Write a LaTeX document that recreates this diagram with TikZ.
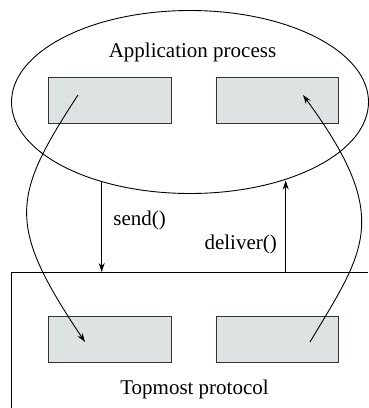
\documentclass[tikz,border=0pt]{standalone}
\usepackage{fontspec}
\setmainfont{Liberation Serif}
\usetikzlibrary{arrows.meta,shapes.geometric}
\definecolor{boxfill}{HTML}{DDE3E3}
\definecolor{boxline}{HTML}{333333}
\begin{document}
\begin{tikzpicture}[x=1pt,y=-1pt,
  inner/.style={draw=boxline,fill=boxfill,line width=1pt,minimum width=122.5pt,minimum height=45.6pt,inner sep=0pt},
  lbl/.style={font=\fontsize{21}{25}\selectfont,inner sep=0pt},
  conn/.style={line width=0.9pt,-{Stealth[length=9pt,width=6pt]}},
  line/.style={line width=0.9pt}]
\useasboundingbox (0,0) rectangle (368,408);
% application process
\node[draw,line width=0.9pt,ellipse,minimum width=357pt,minimum height=183pt,inner sep=0pt] (app) at (190,102) {};
\node[lbl,anchor=base] (apptxt) at (192.5,57.3) {Application process};
\node[inner] (a1) at (110,100.5) {};
\node[inner] (a2) at (277.5,100.5) {};
% topmost protocol
\coordinate (pl) at (11.7,408);
\coordinate (ptl) at (11.7,272);
\coordinate (ptr) at (368,272);
\draw[line] (pl) -- (ptl) -- (ptr);
\node[lbl,anchor=base] (prottxt) at (194.5,394) {Topmost protocol};
\node[inner] (p1) at (110,339.7) {};
\node[inner] (p2) at (277.5,339.7) {};
% send / deliver
\coordinate (s0) at (101.7,180.8);
\coordinate (s1) at (101.7,272);
\draw[conn] (s0) -- (s1);
\node[lbl,anchor=base west] (sendtxt) at (113.3,225.5) {send()};
\coordinate (d0) at (285.7,272);
\coordinate (d1) at (285.7,180.5);
\draw[conn] (d0) -- (d1);
\node[lbl,anchor=base west] (delivtxt) at (204.3,249.5) {deliver()};
% curved paths
\coordinate (c1a) at (78,95);
\coordinate (c1b) at (85,342);
\draw[conn] (c1a) .. controls (11.2,197) and (6.5,225) .. (c1b);
\coordinate (c2a) at (310,342);
\coordinate (c2b) at (303,95);
\draw[conn] (c2a) .. controls (365,250) and (393,217.5) .. (c2b);
\end{tikzpicture}
\end{document}
